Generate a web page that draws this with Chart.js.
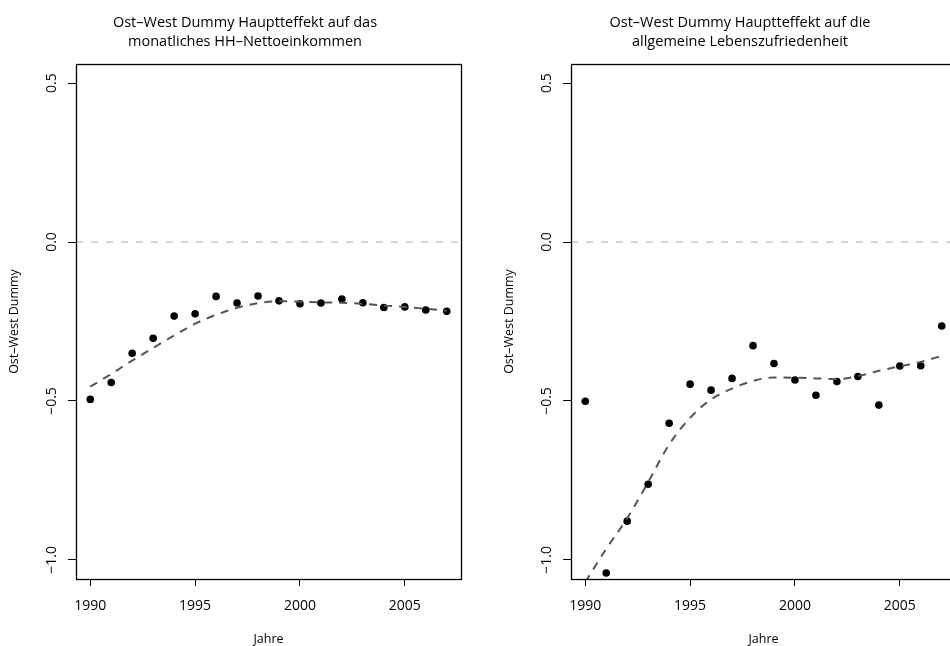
<!DOCTYPE html>
<html>
<head>
<meta charset="utf-8">
<script src="https://cdn.jsdelivr.net/npm/chart.js@4/dist/chart.umd.min.js"></script>
<style>
  html, body { margin: 0; padding: 0; background: #fff; }
  body { width: 950px; height: 646px; overflow: hidden; position: relative; }
  .panel { position: absolute; top: 0; width: 495px; height: 646px; }
</style>
</head>
<body>
<div class="panel" style="left:0"><canvas id="c1" width="495" height="646"></canvas></div>
<div class="panel" style="left:495px"><canvas id="c2" width="495" height="646"></canvas></div>
<script>
// ---- data ----
const years = [1990, 1991, 1992, 1993, 1994, 1995, 1996, 1997, 1998, 1999, 2000, 2001, 2002, 2003, 2004, 2005, 2006, 2007];

const incomeEffect = [-0.495, -0.442, -0.350, -0.303, -0.233, -0.226, -0.171, -0.192, -0.170, -0.185, -0.194, -0.192, -0.179, -0.191, -0.206, -0.204, -0.214, -0.218];
const incomeSmooth = [-0.455, -0.415, -0.373, -0.333, -0.294, -0.257, -0.229, -0.207, -0.192, -0.186, -0.188, -0.190, -0.191, -0.194, -0.200, -0.204, -0.210, -0.216];

const satisfactionEffect = [-0.501, -1.041, -0.878, -0.762, -0.570, -0.447, -0.466, -0.429, -0.326, -0.382, -0.434, -0.482, -0.439, -0.423, -0.513, -0.390, -0.389, -0.264];
const satisfactionSmooth = [-1.070, -0.965, -0.869, -0.755, -0.637, -0.553, -0.495, -0.461, -0.437, -0.426, -0.427, -0.429, -0.431, -0.422, -0.405, -0.391, -0.377, -0.358];

const xTickValues = [1990, 1995, 2000, 2005];
const yTickValues = [-1.0, -0.5, 0.0, 0.5];
const yTickLabels = ['\u22121.0', '\u22120.5', '0.0', '0.5'];
const referenceLine = 0;

const titleIncome = ['Ost\u2013West Dummy Hauptteffekt auf das', 'monatliches HH\u2013Nettoeinkommen'];
const titleSatisfaction = ['Ost\u2013West Dummy Hauptteffekt auf die', 'allgemeine Lebenszufriedenheit'];
const xAxisTitle = 'Jahre';
const yAxisTitle = 'Ost\u2013West Dummy';

// R-style axis ranges (data range extended by 4%)
const xRange = [1990, 2007];
const yRange = [-1.0, 0.5];

// ---- chart construction ----
const FONT = "'Open Sans', 'DejaVu Sans', sans-serif";

const boxPlugin = {
  id: 'rbox',
  beforeDatasetsDraw(chart) {
    const {ctx, chartArea: a, scales} = chart;
    const yp = scales.y.getPixelForValue(referenceLine);
    ctx.save();
    ctx.beginPath();
    ctx.rect(a.left, a.top, a.right - a.left, a.bottom - a.top);
    ctx.clip();
    ctx.strokeStyle = '#d6d6d6';
    ctx.lineWidth = 2;
    ctx.setLineDash([7, 8]);
    ctx.beginPath();
    ctx.moveTo(a.left, yp);
    ctx.lineTo(a.right, yp);
    ctx.stroke();
    ctx.restore();
  },
  afterDraw(chart) {
    const {ctx, chartArea: a} = chart;
    ctx.save();
    ctx.strokeStyle = '#000';
    ctx.lineWidth = 1.3;
    ctx.strokeRect(Math.round(a.left) + 0.5, Math.round(a.top) + 0.5,
                   Math.round(a.right - a.left), Math.round(a.bottom - a.top));
    ctx.restore();
  }
};

function pad4(r) {
  const d = (r[1] - r[0]) * 0.04;
  return [r[0] - d, r[1] + d];
}

function makeChart(id, title, effect, smooth) {
  const xr = pad4(xRange), yr = pad4(yRange);
  return new Chart(document.getElementById(id), {
    type: 'scatter',
    data: {
      datasets: [
        {
          type: 'line',
          data: years.map((yr_, i) => ({x: yr_, y: smooth[i]})),
          borderColor: '#555555',
          borderWidth: 2,
          borderDash: [8, 7],
          pointRadius: 0,
          fill: false,
          cubicInterpolationMode: 'monotone',
          order: 0
        },
        {
          type: 'scatter',
          data: years.map((yr_, i) => ({x: yr_, y: effect[i]})),
          backgroundColor: '#000',
          borderColor: '#000',
          borderWidth: 0,
          pointRadius: 3.8,
          order: 1
        }
      ]
    },
    options: {
      responsive: false,
      animation: false,
      devicePixelRatio: 1,
      layout: { padding: { left: 29, right: 34, top: 0, bottom: 0 } },
      plugins: {
        legend: { display: false },
        tooltip: { enabled: false },
        title: {
          display: true,
          text: title,
          color: '#000',
          font: { family: FONT, size: 14.5, weight: 'normal', lineHeight: '19px' },
          padding: { top: 13, bottom: 13 }
        }
      },
      scales: {
        x: {
          type: 'linear',
          min: xr[0], max: xr[1],
          afterBuildTicks: s => { s.ticks = xTickValues.map(v => ({value: v})); },
          afterFit: s => { s.height = 67; },
          ticks: {
            autoSkip: false, maxRotation: 0, minRotation: 0,
            color: '#000',
            font: { family: FONT, size: 14 },
            padding: 12,
            callback: v => String(v)
          },
          grid: { drawOnChartArea: false, drawTicks: true, tickLength: 7, color: '#000', lineWidth: 1 },
          border: { display: false },
          title: {
            display: true, text: xAxisTitle, color: '#000',
            font: { family: FONT, size: 12.5, lineHeight: 1 },
            padding: { top: 0, bottom: 0 }
          }
        },
        y: {
          type: 'linear',
          min: yr[0], max: yr[1],
          afterBuildTicks: s => { s.ticks = yTickValues.map(v => ({value: v})); },
          afterFit: s => { s.width = 47; },
          ticks: {
            autoSkip: false, minRotation: 90, maxRotation: 90,
            crossAlign: 'center',
            color: '#000',
            font: { family: FONT, size: 14 },
            padding: 2,
            callback: v => yTickLabels[yTickValues.indexOf(v)]
          },
          grid: { drawOnChartArea: false, drawTicks: true, tickLength: 8, color: '#000', lineWidth: 1 },
          border: { display: false },
          title: {
            display: true, text: yAxisTitle, color: '#000',
            font: { family: FONT, size: 12.5, lineHeight: 1.2 },
            padding: { top: -22.5, bottom: 0 }
          }
        }
      }
    },
    plugins: [boxPlugin]
  });
}

makeChart('c1', titleIncome, incomeEffect, incomeSmooth);
makeChart('c2', titleSatisfaction, satisfactionEffect, satisfactionSmooth);
</script>
</body>
</html>
